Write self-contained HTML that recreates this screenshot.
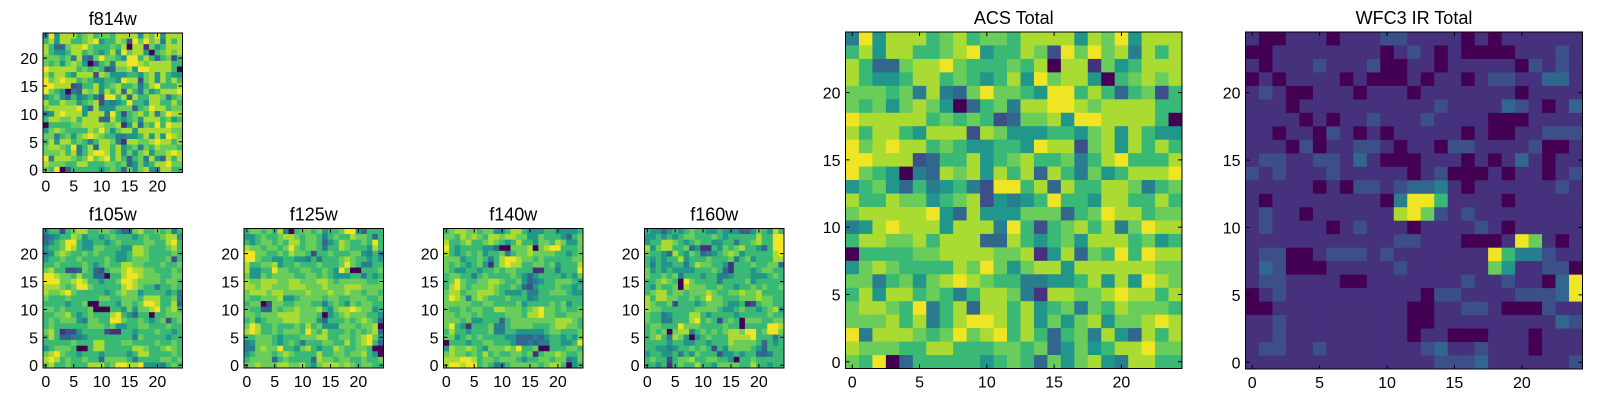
<!DOCTYPE html>
<html><head><meta charset="utf-8"><style>
body{margin:0;background:#fff;width:1600px;height:400px;overflow:hidden}
svg{display:block;font-family:"Liberation Sans","DejaVu Sans",sans-serif}
</style></head><body>
<svg id="fig" width="1600" height="400" xmlns="http://www.w3.org/2000/svg"></svg>
<script>
const tickVals = [0,5,10,15,20];
const acsRows = [
"4958886786776888858795888",
"6858866789566872979784868",
"8633788976667680881756888",
"8655688676568597885067878",
"7776748437977659968636726",
"7675787503674889987888866",
"9888886767623778599888860",
"8688658882875556657858655",
"9789886765566598827858686",
"9988823668567866746896668",
"9765043878586838647568889",
"5675364564299683866887467",
"8668775678254569665886686",
"7888889538555777367988677",
"4589888588849626786847988",
"6887786888338656758886756",
"0666677888877815837696988",
"5787666687975788588888877",
"7746757898766445568585987",
"6858867646887418877898868",
"7887694683886856747687776",
"7778684689986857578577898",
"9488876797896863674853868",
"8777668866677673575688977",
"7690366666567637578548866"];
const f105Rows = [
"5662678866776533786676746",
"3456687566567666567667885",
"3567996556656766667766896",
"5667986557766655887666786",
"4578766767666556887666676",
"5667667666676556777666726",
"6676666765676688776667667",
"7866223763267789887766676",
"9987768663306689987776677",
"9997789866566799877776776",
"8887679976666689876646676",
"8778976666656787756666564",
"7666766666776677768886674",
"6666566700666577679986683",
"7767666670006657577896786",
"6677865676668965366066777",
"6767775477669976676567267",
"6766666677767556677666766",
"7861225666621166566676656",
"6863344566666666476666566",
"6666676668866677666676676",
"5677760068866666887667876",
"7897665666566665688666676",
"8986766766377776466667767",
"7866766688867998895554676"];
const f125Rows = [
"6776768406776756679953666",
"5567667887677646766877636",
"6567767688677635687667696",
"8776776797677646687666586",
"9977667687762667666775464",
"9976655665546466678766565",
"8667785667666766679764466",
"8556697766776676597006667",
"7557677776677676555664656",
"8778887788777887677777667",
"8878877788877787778887777",
"7888788777787778778776776",
"7667778556777767766777667",
"6770277667776646765767766",
"7663376778777865788987756",
"7767778888777605678777665",
"6756777888777536667678763",
"7986676667686755577767780",
"8986676777697686667676783",
"6677765666777886677678975",
"4577765676466677668678963",
"4478779665786566876677600",
"5677767876666866776778650",
"6777736766663877677667667",
"7787778877865788878767766"];
const f140Rows = [
"6788776775568865556655556",
"7768787688788775576665367",
"8667866787656866577687557",
"9656666553007778078996667",
"8656767566746778777766567",
"7775667646899877676666677",
"7676567516898866776756668",
"7655665667677666116646669",
"6776646766667653566665657",
"6797667788766753456677765",
"6897677787667632566676656",
"7886778887655564466777655",
"7987478766676664566666666",
"7777766776666756666767566",
"7667677668877767897767667",
"7767767666677768897766777",
"7776755666367777777788876",
"7965166674467777666788776",
"6866566674466555556776667",
"7756767666655333435665657",
"0666566776665334344665569",
"5877876577787966700666776",
"7877676867667767167787667",
"8889986776777656677677457",
"8998996764467777767886056"];
const f160Rows = [
"6553565676655655533576586",
"5565656776667656666686699",
"5668876567665566466786699",
"8578866735116576786653699",
"7665386576345678756666689",
"6565668566676667467566688",
"6465566468776651666766773",
"7565655556667631666567766",
"7667674666566445666555676",
"6678760976666466667566666",
"6576670877766766566767667",
"6788677677787667787786666",
"8688776676797766677787766",
"8766726665677765561267766",
"8776666667777655676656785",
"7664566688656666566666766",
"7664466689676267607776677",
"6776669777666676606666998",
"6767078846767678879967997",
"6786487505676668888966646",
"6666566556656668777763656",
"6655456676762657777653666",
"5665564657666255656633466",
"6766267786677665066766666",
"6656167668665777766866566"];
const wfcRows = [
"1001110111221111010111111",
"0011111111012101000011121",
"1011121112001101111102121",
"0101111010001011012211331",
"1210011101110111111101111",
"1110111111111121111321013",
"1111010112111211110001111",
"1101102101011111010011222",
"1110201122101102211112001",
"1221122131000111010131011",
"2121112111110120001011012",
"1111101022123341011111121",
"1011111111049961111011111",
"1211011111189721211111111",
"1211110121110111121011111",
"1111111111122111000197101",
"1220012221211111119644211",
"1320001111121111117511220",
"1221111001111111211211039",
"0121111111111022111122239",
"0011111111110011221000211",
"1121111111110011111111132",
"1121111111110110001110111",
"1221121111111231121110111",
"1111111111111122231111112"];

const NS='http://www.w3.org/2000/svg';
const svg=document.getElementById('fig');
const stops=[[0,[68,1,84]],[0.1,[72,36,117]],[0.2,[65,68,135]],[0.3,[53,95,141]],[0.4,[42,120,142]],[0.5,[33,145,140]],[0.6,[34,168,132]],[0.7,[68,191,112]],[0.8,[122,209,81]],[0.9,[189,223,38]],[1,[253,231,37]]];
const levelMap=[0,0.14,0.24,0.33,0.42,0.52,0.67,0.77,0.87,0.98];
function viridis(t){t=Math.max(0,Math.min(1,t));for(let i=1;i<stops.length;i++){if(t<=stops[i][0]){const a=stops[i-1],b=stops[i];const f=(t-a[0])/(b[0]-a[0]);const c=a[1].map((v,k)=>Math.round(v+(b[1][k]-v)*f));return 'rgb('+c.join(',')+')';}}return 'rgb(253,231,37)';}
function mk(tag,attrs,parent){const e=document.createElementNS(NS,tag);for(const k in attrs)e.setAttribute(k,attrs[k]);(parent||svg).appendChild(e);return e;}

function panel(name,rows,x0,y0,size,title,fs){
  const g=mk('g',{});
  
  
  const n=rows.length, m=rows[0].length;
  const cell=size/m;
  const xs=v=>x0+(v+0.5)*cell;
  const ys=v=>y0+size-(v+0.5)*cell;
  for(let r=0;r<n;r++){
    const yi=n-1-r;
    for(let c=0;c<m;c++){
      const val=levelMap[+rows[r][c]];
      const rc=mk('rect',{x:(xs(c)-cell/2).toFixed(2),y:(ys(yi)-cell/2).toFixed(2),width:(cell+0.4).toFixed(2),height:(cell+0.4).toFixed(2),fill:viridis(val)},g);
      
      
    }
  }
  const fr=mk('rect',{x:x0,y:y0,width:size,height:size,fill:'none',stroke:'#000','stroke-width':1},g);
  
  
  tickVals.forEach(v=>{
    const X=xs(v),Y=ys(v);
    mk('line',{x1:X,y1:y0+size,x2:X,y2:y0+size-4,stroke:'#000'},g);
    mk('line',{x1:X,y1:y0,x2:X,y2:y0+4,stroke:'#000'},g);
    mk('line',{x1:x0,y1:Y,x2:x0+4,y2:Y,stroke:'#000'},g);
    mk('line',{x1:x0+size,y1:Y,x2:x0+size-4,y2:Y,stroke:'#000'},g);
    const tx=mk('text',{x:X,y:y0+size+19,'font-size':fs,'text-anchor':'middle',fill:'#000'},g);
    tx.textContent=v;
    
    
    const ty=mk('text',{x:x0-5,y:Y+6,'font-size':fs,'text-anchor':'end',fill:'#000'},g);
    ty.textContent=v;
    
    
  });
  const t=mk('text',{x:x0+size/2,y:y0-8,'font-size':18,'text-anchor':'middle',fill:'#000'},g);
  t.textContent=title;
  
  
}
panel('f814w',acsRows,43,33,139.5,'f814w',16);
panel('f105w',f105Rows,43,228.5,139.5,'f105w',16);
panel('f125w',f125Rows,244,228.5,139.5,'f125w',16);
panel('f140w',f140Rows,443.5,228.5,139.5,'f140w',16);
panel('f160w',f160Rows,644.5,228.5,139.5,'f160w',16);
panel('acs-total',acsRows,845.5,32,336.5,'ACS Total',16);
panel('wfc3-ir-total',wfcRows,1245.5,32,337,'WFC3 IR Total',16);
</script>
</body></html>
